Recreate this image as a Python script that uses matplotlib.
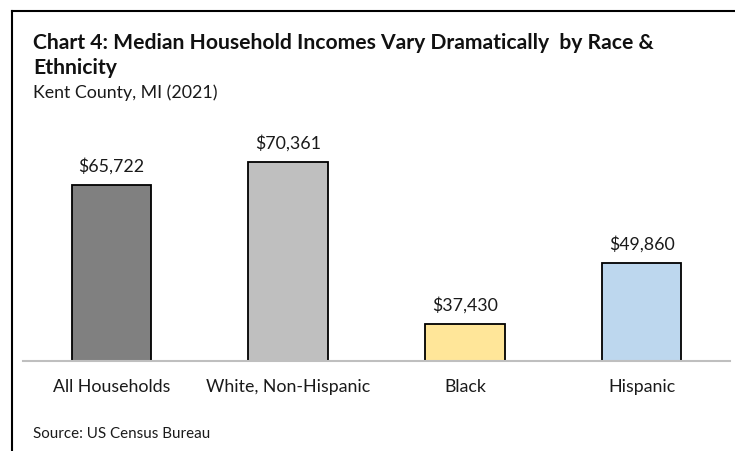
import matplotlib.pyplot as plt
from matplotlib.lines import Line2D

categories = ["All Households", "White, Non-Hispanic", "Black", "Hispanic"]
incomes = [65722, 70361, 37430, 49860]
colors = ["#808080", "#bfbfbf", "#ffe699", "#bdd7ee"]

W, H = 735, 451
plt.rcParams["font.family"] = ["Lato", "DejaVu Sans"]

fig = plt.figure(figsize=(W / 100, H / 100), dpi=100)


def px(x, y):
    # pixel position (from top-left) -> figure fraction
    return x / W, 1 - y / H


# plot area
left, right, top, bottom = 23, 730, 115, 361
ax = fig.add_axes([left / W, 1 - bottom / H, (right - left) / W, (bottom - top) / H])

x = range(len(categories))
ax.bar(x, incomes, width=0.45, color=colors, edgecolor="black", linewidth=1.3,
       zorder=2)
ax.set_ylim(30000, 80000)
ax.set_xlim(-0.5, len(categories) - 0.5)

for i, v in enumerate(incomes):
    ax.annotate(f"${v:,}", (i, v), xytext=(0, 8), textcoords="offset points",
                ha="center", va="bottom", fontsize=12.8, color="#1a1a1a")

ax.set_xticks(list(x))
ax.set_xticklabels(categories, fontsize=12.8, color="#1a1a1a")
ax.tick_params(axis="x", length=0, pad=13)
ax.set_yticks([])
for s in ["top", "right", "left"]:
    ax.spines[s].set_visible(False)
ax.spines["bottom"].set_color("#bfbfbf")
ax.spines["bottom"].set_linewidth(1.5)
ax.spines["bottom"].set_zorder(3)

# frame lines (top and left only)
fig.add_artist(Line2D([12 / W, 1], [1 - 10.5 / H] * 2, color="black", lw=1.5,
                      transform=fig.transFigure))
fig.add_artist(Line2D([12 / W] * 2, [1 - 10.5 / H, 0], color="black", lw=1.5,
                      transform=fig.transFigure))

fig.text(*px(33, 43), "Chart 4: Median Household Incomes Vary Dramatically  by Race &",
         fontsize=15.2, fontweight="bold", va="center", ha="left", color="#111111")
fig.text(*px(33, 68), "Ethnicity", fontsize=15.2, fontweight="bold",
         va="center", ha="left", color="#111111")
fig.text(*px(33, 93), "Kent County, MI (2021)", fontsize=12.8,
         va="center", ha="left", color="#1a1a1a")
fig.text(*px(33, 434), "Source: US Census Bureau", fontsize=10.9,
         va="center", ha="left", color="#1a1a1a")

fig.savefig("out.png", dpi=100)
